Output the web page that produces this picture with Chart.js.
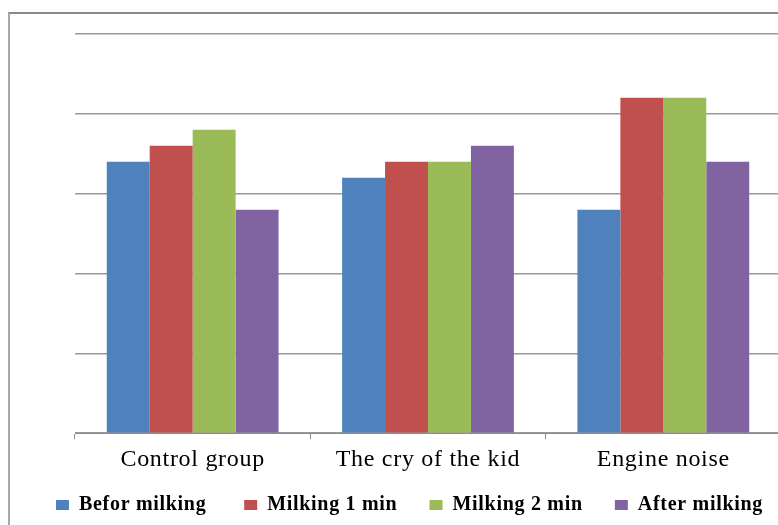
<!DOCTYPE html>
<html>
<head>
<meta charset="utf-8">
<script src="https://cdn.jsdelivr.net/npm/chart.js@4"></script>
<style>
  html, body { margin: 0; padding: 0; background: #fff; overflow: hidden; width: 778px; height: 525px; }
  #frame { position: absolute; left: 8px; top: 12px; width: 800px; height: 600px; border-left: 2px solid #a8a8a8; border-top: 2px solid #8a8a8a; }
  #wrap { position: absolute; left: 0; top: 0; width: 800px; height: 525px; }
</style>
</head>
<body>
<div id="frame"></div>
<div id="wrap"><canvas id="chart"></canvas></div>
<script>
// groups on the x axis
const groups = ["Control group", "The cry of the kid", "Engine noise"];

// series
const beforMilking = [3.4, 3.2, 2.8];
const milking1min = [3.6, 3.4, 4.2];
const milking2min = [3.8, 3.4, 4.2];
const afterMilking = [2.8, 3.6, 3.4];

const seriesNames = ["Befor milking", "Milking 1 min", "Milking 2 min", "After milking"];
const seriesColors = ["#4F81BD", "#C0504D", "#9BBB59", "#8064A2"];
const seriesData = [beforMilking, milking1min, milking2min, afterMilking];

// extra room after each legend entry (the original spaces them out evenly)
const legendGap = ["    ", "   ", "   ", ""];

const datasets = seriesData.map((vals, i) => ({
    label: seriesNames[i],
    data: vals,
    backgroundColor: seriesColors[i],
    borderWidth: 0,
    barPercentage: 1,
    categoryPercentage: 0.73
}));

// the old office text is a bit spaced out
const spacing = {
    id: "spacing",
    beforeLayout(chart) { chart.ctx.letterSpacing = "0.7px"; },
    beforeDraw(chart) { chart.ctx.letterSpacing = "0.7px"; }
};

const context = document.getElementById("chart").getContext("2d");
const chart = new Chart(context, {
    type: "bar",
    data: { labels: groups, datasets: datasets },
    plugins: [spacing],
    options: {
        responsive: true,
        maintainAspectRatio: false,
        animation: false,
        layout: { padding: { left: 38, right: 19, top: 34, bottom: 0 } },
        scales: {
            x: {
                grid: { drawOnChartArea: false, drawTicks: true, tickLength: 6, color: "#8a8a8a", offset: true },
                border: { display: true, color: "#8a8a8a", width: 1 },
                ticks: { color: "#000", font: { family: "Liberation Serif", size: 24 }, padding: 6 }
            },
            y: {
                min: 0,
                max: 5,
                ticks: { display: false, stepSize: 1 },
                grid: { color: "#9a9a9a", lineWidth: 1.5, drawTicks: false },
                border: { display: false },
                afterFit(scale) { scale.width = 37; }
            }
        },
        plugins: {
            legend: {
                position: "bottom",
                labels: {
                    color: "#000",
                    font: { family: "Liberation Serif", size: 20, weight: "bold" },
                    boxWidth: 13,
                    boxHeight: 10,
                    padding: 15,
                    generateLabels(chart) {
                        const items = Chart.defaults.plugins.legend.labels.generateLabels(chart);
                        items.forEach((item, i) => { item.text = item.text + legendGap[i]; item.lineWidth = 0; });
                        return items;
                    }
                }
            },
            tooltip: { enabled: false }
        }
    }
});
</script>
</body>
</html>
